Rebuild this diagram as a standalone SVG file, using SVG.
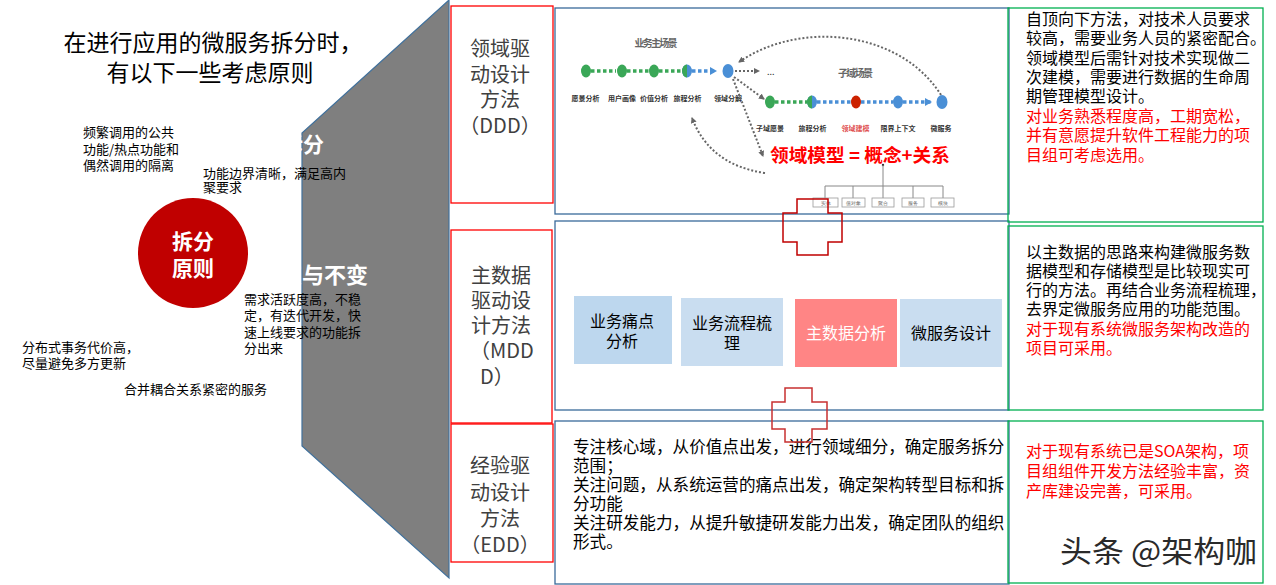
<svg xmlns="http://www.w3.org/2000/svg" width="1276" height="585" viewBox="0 0 1276 585">
<style>
text{font-family:"Noto Sans CJK SC","Microsoft YaHei",sans-serif}
.t13{font-size:13px;fill:#000}
.title{font-size:23px;fill:#000}
.wb{font-weight:bold;fill:#fff}
.redbox{fill:#fff;stroke:#ff0000;stroke-width:1.3}
.bt{font-size:20px;fill:#404040;text-anchor:middle}
.cbox{fill:#fff;stroke:#3a6a9a;stroke-width:1.3}
.gbox{fill:none;stroke:#00b050;stroke-width:1.3}
.t16{font-size:16px;fill:#000}
.red{fill:#f00}
.cross{fill:none;stroke:#c00000;stroke-width:1.5}
.gd{stroke:#3aa757;stroke-width:3.5;stroke-dasharray:3.5 2.5;fill:none}
.bd{stroke:#4a8fd6;stroke-width:3.5;stroke-dasharray:3.5 2.5;fill:none}
.ad{stroke:#666;stroke-width:2;stroke-dasharray:2 2;fill:none}
.lbl{font-size:7px;font-weight:bold;fill:#333;text-anchor:middle}
.tree{stroke:#888;stroke-width:1;fill:none}
.tb{fill:#fff;stroke:#999;stroke-width:0.8}
.tl{font-family:"Liberation Serif",serif;font-size:5px;fill:#666;text-anchor:middle}
</style>
<defs>
<marker id="ag" markerWidth="6" markerHeight="6" refX="5" refY="3" orient="auto" markerUnits="userSpaceOnUse"><path d="M0,0 L6,3 L0,6 z" fill="#666"/></marker>
<marker id="ab" markerWidth="7" markerHeight="8" refX="6" refY="4" orient="auto" markerUnits="userSpaceOnUse"><path d="M0,0 L7,4 L0,8 z" fill="#4a8fd6"/></marker>
</defs>
<rect width="1276" height="585" fill="#fff"/>

<g id="funnel">
<polygon points="449,0 302,133 302,446 449,578" fill="#7f7f7f" stroke="#41719c" stroke-width="1.2"/>
</g>

<g id="title">
<text class="title" text-anchor="middle"><tspan x="213" y="51">在进行应用的微服务拆分时，</tspan><tspan x="210" y="80.5">有以下一些考虑原则</tspan></text>
</g>

<g id="principles">
<text class="wb" x="282" y="152" font-size="21">拆分</text>
<text class="wb" x="280" y="283" font-size="22">变与不变</text>
<text class="t13" font-size="13.5"><tspan x="83" y="137">频繁调用的公共</tspan><tspan x="83" y="153.5">功能/热点功能和</tspan><tspan x="83" y="170">偶然调用的隔离</tspan></text>
<text class="t13"><tspan x="203" y="177.5">功能边界清晰，满足高内</tspan><tspan x="203" y="192">聚要求</tspan></text>
<text class="t13"><tspan x="244" y="303.6">需求活跃度高，不稳</tspan><tspan x="244" y="320">定，有迭代开发，快</tspan><tspan x="244" y="336.5">速上线要求的功能拆</tspan><tspan x="244" y="352.6">分出来</tspan></text>
<text class="t13"><tspan x="22" y="351.6">分布式事务代价高，</tspan><tspan x="22" y="367.6">尽量避免多方更新</tspan></text>
<text class="t13" x="124" y="393.6">合并耦合关系紧密的服务</text>
</g>

<g id="center-circle">
<circle cx="193" cy="253" r="55" fill="#c00000"/>
<text class="wb" font-size="21" text-anchor="middle"><tspan x="193" y="249">拆分</tspan><tspan x="193" y="276">原则</tspan></text>
</g>

<g id="method-ddd">
<rect class="redbox" x="451" y="6" width="102" height="197"/>
<text class="bt"><tspan x="500" y="55.5">领域驱</tspan><tspan x="500" y="81.5">动设计</tspan><tspan x="500" y="107">方法</tspan><tspan x="500" y="133">（DDD）</tspan></text>
</g>
<g id="method-mddd">
<rect class="redbox" x="451" y="230" width="101" height="193"/>
<text class="bt"><tspan x="501" y="283">主数据</tspan><tspan x="501" y="307.5">驱动设</tspan><tspan x="501" y="333">计方法</tspan><tspan x="502" y="358">（MDD</tspan><tspan x="497" y="384">D）</tspan></text>
</g>
<g id="method-edd">
<rect class="redbox" x="451" y="424" width="102" height="138"/>
<text class="bt"><tspan x="500" y="473">经验驱</tspan><tspan x="500" y="499.5">动设计</tspan><tspan x="500" y="525.5">方法</tspan><tspan x="500" y="552">（EDD）</tspan></text>
</g>

<g id="content-ddd">
<rect class="cbox" x="555" y="8" width="454" height="206"/>
<text x="656" y="47" font-size="10" font-weight="bold" fill="#666" text-anchor="middle" textLength="43">业务主场景</text>
<text x="855.5" y="77" font-size="10" font-weight="bold" fill="#666" text-anchor="middle" textLength="35">子域场景</text>
<line class="gd" x1="591" y1="71" x2="616" y2="71"/>
<line class="gd" x1="627" y1="71" x2="649" y2="71"/>
<line class="gd" x1="659" y1="71" x2="682" y2="71"/>
<line class="bd" x1="692" y1="71" x2="716" y2="71" marker-end="url(#ab)"/>
<ellipse cx="586" cy="71" rx="5" ry="6.5" fill="#3aa757"/>
<ellipse cx="622" cy="71" rx="5" ry="6.5" fill="#3aa757"/>
<ellipse cx="654" cy="71" rx="5" ry="6.5" fill="#3aa757"/>
<ellipse cx="687" cy="71" rx="5" ry="6.5" fill="#4a8fd6"/>
<path d="M687,64.5 A5,6.5 0 0 0 687,77.5 z" fill="#3aa757"/>
<ellipse cx="728" cy="71" rx="5.5" ry="7" fill="#4a8fd6"/>
<text class="lbl" x="585.5" y="101">愿景分析</text>
<text class="lbl" x="622" y="101">用户画像</text>
<text class="lbl" x="654" y="101">价值分析</text>
<text class="lbl" x="687.5" y="101">旅程分析</text>
<text class="lbl" x="728" y="101">领域分解</text>
<line class="ad" x1="735" y1="71" x2="759" y2="71" marker-end="url(#ag)"/>
<text x="767" y="75" font-size="9" fill="#333" font-family="Liberation Sans,sans-serif">...</text>
<line class="ad" x1="734" y1="77" x2="764" y2="99" marker-end="url(#ag)"/>
<line class="ad" x1="733" y1="79" x2="763" y2="156" marker-end="url(#ag)"/>
<path class="ad" d="M941,95 C900,30 800,20 739,62" marker-end="url(#ag)"/>
<path class="ad" d="M765,173 Q710,165 692,118" marker-end="url(#ag)"/>
<line class="gd" x1="775" y1="102" x2="807" y2="102"/>
<line class="bd" x1="817" y1="102" x2="851" y2="102"/>
<line class="bd" x1="861" y1="102" x2="893" y2="102"/>
<line class="bd" x1="903" y1="102" x2="931" y2="102" marker-end="url(#ab)"/>
<ellipse cx="770" cy="102" rx="5" ry="6.5" fill="#3aa757"/>
<ellipse cx="812" cy="102" rx="5" ry="6.5" fill="#4a8fd6"/>
<path d="M812,95.5 A5,6.5 0 0 0 812,108.5 z" fill="#3aa757"/>
<ellipse cx="856" cy="102" rx="5" ry="6.5" fill="#cc2200"/>
<ellipse cx="898" cy="102" rx="5" ry="6.5" fill="#4a8fd6"/>
<ellipse cx="942" cy="102" rx="5.5" ry="7" fill="#4a8fd6"/>
<text class="lbl" x="770" y="130.5">子域愿景</text>
<text class="lbl" x="812.5" y="130.5">旅程分析</text>
<text class="lbl" x="855.5" y="130.5" style="fill:#e05050">领域建模</text>
<text class="lbl" x="898" y="130.5">限界上下文</text>
<text class="lbl" x="941" y="130.5">微服务</text>
<text x="860" y="161.5" font-size="18" font-weight="bold" fill="#ff0000" text-anchor="middle" textLength="180" lengthAdjust="spacingAndGlyphs">领域模型 = 概念+关系</text>
<circle cx="883" cy="165" r="1.2" fill="#333"/>
<path class="tree" d="M883,165 V186 M825,186 H943 M825,186 V198 M853,186 V198 M913,186 V198 M943,186 V198 M883,186 V198"/>
<rect class="tb" x="813" y="198" width="25" height="9"/>
<rect class="tb" x="842" y="198" width="23" height="9"/>
<rect class="tb" x="872" y="198" width="22" height="9"/>
<rect class="tb" x="902" y="198" width="22" height="9"/>
<rect class="tb" x="931" y="198" width="23" height="9"/>
<text class="tl" x="825.5" y="204.5">实体</text>
<text class="tl" x="853.5" y="204.5">值对象</text>
<text class="tl" x="883" y="204.5">聚合</text>
<text class="tl" x="913" y="204.5">服务</text>
<text class="tl" x="942.5" y="204.5">模块</text>
</g>

<g id="content-mddd">
<rect class="cbox" x="555" y="221" width="454" height="189"/>
<rect x="574" y="296" width="98" height="68" fill="#bdd7ee"/>
<text class="t16" text-anchor="middle"><tspan x="622" y="326.5">业务痛点</tspan><tspan x="622" y="347">分析</tspan></text>
<rect x="681" y="298" width="102" height="68" fill="#c9ddf0"/>
<text class="t16" text-anchor="middle"><tspan x="732" y="328.8">业务流程梳</tspan><tspan x="732" y="348.8">理</tspan></text>
<rect x="795" y="299" width="102" height="68" fill="#ff8585"/>
<text class="t16" x="846" y="338.8" text-anchor="middle" style="fill:#fff">主数据分析</text>
<rect x="900" y="299" width="102" height="68" fill="#c9ddf0"/>
<text class="t16" x="951" y="338.8" text-anchor="middle">微服务设计</text>
</g>

<g id="content-edd">
<rect class="cbox" x="555" y="421" width="454" height="163"/>
<text font-size="16.6" fill="#000"><tspan x="573" y="453">专注核心域，从价值点出发，进行领域细分，确定服务拆分</tspan><tspan x="573" y="472">范围；</tspan><tspan x="573" y="491">关注问题，从系统运营的痛点出发，确定架构转型目标和拆</tspan><tspan x="573" y="510">分功能</tspan><tspan x="573" y="529">关注研发能力，从提升敏捷研发能力出发，确定团队的组织</tspan><tspan x="573" y="548">形式。</tspan></text>
</g>

<g id="note-ddd">
<rect class="gbox" x="1008" y="8" width="255" height="214"/>
<text class="t16"><tspan x="1026" y="24.8">自顶向下方法，对技术人员要求</tspan><tspan x="1026" y="44.2">较高，需要业务人员的紧密配合。</tspan><tspan x="1026" y="63.6">领域模型后需针对技术实现做二</tspan><tspan x="1026" y="83">次建模，需要进行数据的生命周</tspan><tspan x="1026" y="102.4">期管理模型设计。</tspan><tspan class="red" x="1026" y="121.8">对业务熟悉程度高，工期宽松，</tspan><tspan class="red" x="1026" y="141.2">并有意愿提升软件工程能力的项</tspan><tspan class="red" x="1026" y="160.6">目组可考虑选用。</tspan></text>
</g>

<g id="note-mddd">
<rect class="gbox" x="1008" y="226" width="255" height="184"/>
<text class="t16"><tspan x="1026" y="257.5">以主数据的思路来构建微服务数</tspan><tspan x="1026" y="276.8">据模型和存储模型是比较现实可</tspan><tspan x="1026" y="296.1">行的方法。再结合业务流程梳理，</tspan><tspan x="1026" y="315.4">去界定微服务应用的功能范围。</tspan><tspan class="red" x="1026" y="334.7">对于现有系统微服务架构改造的</tspan><tspan class="red" x="1026" y="354">项目可采用。</tspan></text>
</g>

<g id="note-edd">
<rect class="gbox" x="1008" y="421" width="255" height="162"/>
<text class="t16 red"><tspan x="1026" y="457.3">对于现有系统已是SOA架构，项</tspan><tspan x="1026" y="477.3">目组组件开发方法经验丰富，资</tspan><tspan x="1026" y="497.3">产库建设完善，可采用。</tspan></text>
</g>

<g id="connectors">
<polygon class="cross" points="797,199 828,199 828,213 842,213 842,242 828,242 828,255 797,255 797,242 783,242 783,213 797,213"/>
<polygon class="cross" points="785,388 812,388 812,402 827,402 827,429 812,429 812,442 785,442 785,429 772,429 772,402 785,402" style="stroke:#c83030"/>
</g>

<g id="watermark">
<text x="1060" y="562" font-size="30" fill="#2a2a2a" textLength="197" lengthAdjust="spacingAndGlyphs">头条 @架构咖</text>
</g>
</svg>
